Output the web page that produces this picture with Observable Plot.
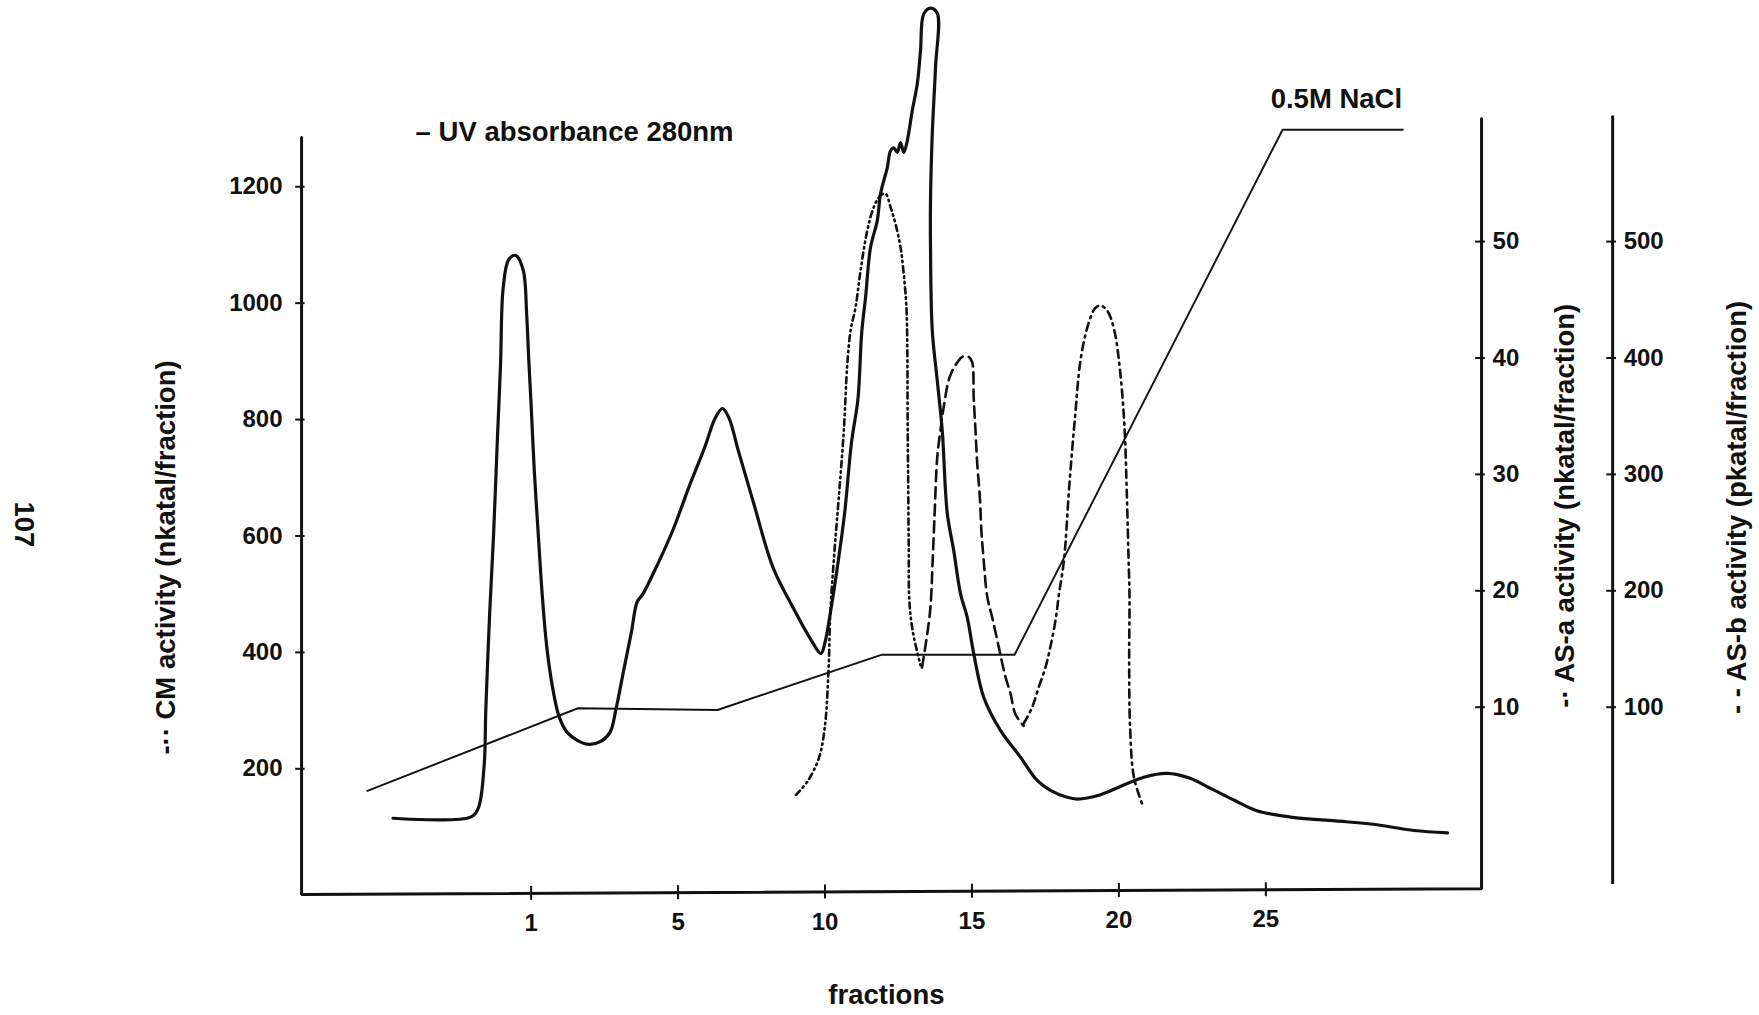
<!DOCTYPE html>
<html><head><meta charset="utf-8">
<script src="https://cdn.jsdelivr.net/npm/d3@7"></script>
<script src="https://cdn.jsdelivr.net/npm/@observablehq/plot@0.6"></script>
<style>html,body{margin:0;padding:0;background:#fff;overflow:hidden}</style>
</head><body><div id="chart"></div>
<script>
// ---------------- data ----------------
// x position along the fraction axis (tick "1" sits at position 0)
const xTickValues = [0, 5, 10, 15, 20, 25];
const xTickLabels = ["1", "5", "10", "15", "20", "25"];
const cmTicks  = [200, 400, 600, 800, 1000, 1200];   // nkatal/fraction
const asaTicks = [10, 20, 30, 40, 50];               // nkatal/fraction
const asbTicks = [100, 200, 300, 400, 500];          // pkatal/fraction

// UV absorbance 280nm (plotted against the CM scale)
const uvAbsorbance = [
  [-4.70,115],[-2.06,117],[-1.80,132],[-1.60,204],[-1.54,303],[-1.41,467],[-1.28,599],[-1.15,763],
  [-1.04,895],[-0.95,1026],[-0.76,1075],[-0.52,1082],[-0.27,1057],[-0.15,980],[-0.08,903],[0.00,826],
  [0.11,711],[0.23,614],[0.38,498],[0.53,411],[0.73,340],[0.95,290],[1.22,263],[1.60,248],[1.98,242],
  [2.37,247],[2.69,263],[2.89,303],[3.15,369],[3.41,434],[3.61,487],[3.80,500],[4.32,553],[4.84,612],
  [5.37,684],[5.89,750],[6.27,803],[6.51,819],[6.73,803],[7.06,745],[7.58,655],[8.23,546],[8.88,480],
  [9.53,421],[9.86,398],[9.99,415],[10.18,467],[10.44,553],[10.67,640],[10.90,760],[11.12,835],[11.25,950],
  [11.38,1010],[11.55,1096],[11.78,1142],[11.89,1188],[12.12,1233],[12.23,1262],[12.34,1267],
  [12.46,1259],[12.57,1276],[12.68,1259],[12.80,1279],[12.97,1331],[13.14,1377],[13.25,1434],
  [13.36,1497],[13.59,1507],[13.82,1498],[13.76,1405],[13.65,1291],[13.59,1176],[13.59,1096],
  [13.65,953],[13.82,867],[13.99,781],[14.16,639],[14.38,575],[14.61,501],[14.84,460],[15.06,398],
  [15.40,323],[15.97,266],[16.65,220],[17.22,180],[17.67,163],[18.24,151],[18.58,148],[19.35,155],
  [20.11,171],[20.88,186],[21.64,192],[22.40,184],[23.17,165],[23.93,146],[24.69,128],[25.84,117],
  [27.74,109],[28.90,103],[30.04,94],[31.18,90]
];

// salt gradient up to 0.5M NaCl (plotted against the CM scale)
const naclGradient = [
  [-5.57,162],[1.59,304],[6.34,301],[11.94,396],[16.45,396],[25.57,1298],[29.66,1298]
];

// CM activity, nkatal/fraction
const cmActivity = [
  [9.01,155],[9.40,178],[9.79,218],[9.99,270],[10.12,369],[10.18,467],[10.31,566],[10.47,667],
  [10.64,781],[10.76,896],[10.87,953],[11.04,993],[11.21,1056],[11.44,1125],[11.66,1165],[11.89,1185],
  [12.06,1188],[12.23,1165],[12.40,1136],[12.57,1096],[12.68,1050],[12.77,993],[12.80,924],[12.81,810],
  [12.83,695],[12.85,581],[12.87,489],[12.98,438],[13.18,392],[13.25,378]
];

// AS-b activity, pkatal/fraction
const asbActivity = [
  [13.30,134],[13.57,181],[13.67,230],[13.73,266],[13.82,315],[13.93,338],[14.04,358],[14.21,381],
  [14.33,389],[14.50,396],[14.67,401],[14.89,401],[15.01,396],[15.06,366],[15.12,338],[15.18,309],
  [15.27,280],[15.32,252],[15.40,226],[15.52,195],[15.69,177],[15.91,152],[16.14,126],[16.31,112],
  [16.48,94],[16.76,84]
];

// AS-a activity, nkatal/fraction
const asaActivity = [
  [16.76,8.6],[17.05,10.0],[17.27,11.7],[17.50,13.4],[17.67,15.2],[17.84,17.4],[17.96,19.7],[18.13,22.6],
  [18.32,29.3],[18.51,35.0],[18.70,39.9],[18.97,43.0],[19.20,44.3],[19.39,44.5],[19.62,44.0],[19.85,42.3],
  [20.04,38.9],[20.19,34.1],[20.27,28.3],[20.33,22.6],[20.36,19.7],[20.35,14.0],[20.38,8.3],[20.51,4.0],
  [20.79,1.7]
];

// ---------------- layout ----------------
// secondary axes share the frame: value -> CM-scale equivalent
const asaToCm = a => 105.8 + 20 * a;
const asbToCm = b => 105.8 + 2 * b;

const leftAxisX = -7.81, asaAxisX = 32.34, asbAxisX = 36.80;
const baseLeft = -16, baseRight = -6;
const baseAt = u => baseLeft + (u - leftAxisX) * (baseRight - baseLeft) / (asaAxisX - leftAxisX);

const ink = "#111";
const font = "'Liberation Sans', Arial, Helvetica, sans-serif";
const tickFont = {fontFamily: font, fontSize: 24, fontWeight: "bold", fill: ink};
const labelFont = {fontFamily: font, fontSize: 27.5, fontWeight: "bold", fill: ink};

const chart = Plot.plot({
  width: 1759,
  height: 1015,
  margin: 0,
  marginBottom: 121,
  x: {domain: [-18.054, 41.797], axis: null},
  y: {domain: [-16, 1520], axis: null},
  style: {background: "#fff", overflow: "visible"},
  marks: [
    // frame: left axis, x axis, AS-a axis
    Plot.line([[leftAxisX, 1284.6], [leftAxisX, baseLeft], [asaAxisX, baseRight], [asaAxisX, 1317]],
      {x: d => d[0], y: d => d[1], stroke: ink, strokeWidth: 3, strokeLinejoin: "miter"}),
    Plot.ruleX([asbAxisX], {y1: 1.2, y2: 1321.6, stroke: ink, strokeWidth: 3}),

    // left axis ticks + labels
    Plot.ruleY(cmTicks, {y: d => d, x1: leftAxisX - 0.2, x2: leftAxisX + 0.12, stroke: ink, strokeWidth: 2}),
    Plot.text(cmTicks, {y: d => d, x: leftAxisX, dx: -19, text: d => String(d), textAnchor: "end", ...tickFont}),

    // x ticks + labels
    Plot.ruleX(xTickValues, {x: d => d, y1: d => baseAt(d) - 12, y2: d => baseAt(d) + 12, stroke: ink, strokeWidth: 2}),
    Plot.text(xTickValues, {x: d => d, y: d => baseAt(d), dy: 30, text: (d, i) => xTickLabels[i], ...tickFont}),

    // AS-a axis ticks + labels
    Plot.ruleY(asaTicks, {y: d => asaToCm(d), x1: asaAxisX - 0.2, x2: asaAxisX + 0.13, stroke: ink, strokeWidth: 2}),
    Plot.text(asaTicks, {y: d => asaToCm(d), x: asaAxisX, dx: 11, text: d => String(d), textAnchor: "start", ...tickFont}),

    // AS-b axis ticks + labels
    Plot.ruleY(asbTicks, {y: d => asbToCm(d), x1: asbAxisX - 0.2, x2: asbAxisX + 0.13, stroke: ink, strokeWidth: 2}),
    Plot.text(asbTicks, {y: d => asbToCm(d), x: asbAxisX, dx: 11, text: d => String(d), textAnchor: "start", ...tickFont}),

    // curves
    Plot.line(naclGradient, {x: d => d[0], y: d => d[1], stroke: ink, strokeWidth: 1.9}),
    Plot.line(uvAbsorbance, {x: d => d[0], y: d => d[1], curve: "catmull-rom", stroke: ink, strokeWidth: 3.2}),
    Plot.line(cmActivity, {x: d => d[0], y: d => d[1], curve: "catmull-rom", stroke: ink, strokeWidth: 2.6,
      strokeDasharray: "6 4 1.5 4 1.5 4"}),
    Plot.line(asbActivity, {x: d => d[0], y: d => asbToCm(d[1]), curve: "catmull-rom", stroke: ink, strokeWidth: 2.6,
      strokeDasharray: "11 6"}),
    Plot.line(asaActivity, {x: d => d[0], y: d => asaToCm(d[1]), curve: "catmull-rom", stroke: ink, strokeWidth: 2.6,
      strokeDasharray: "8 5 2 5"}),

    // annotations
    Plot.text(["\u2013 UV absorbance 280nm"], {x: -3.93, y: 1293, text: d => d, textAnchor: "start", ...labelFont}),
    Plot.text(["0.5M NaCl"], {x: 27.40, y: 1351, text: d => d, ...labelFont}),
    Plot.text(["fractions"], {x: 12.09, y: -189.5, text: d => d, ...labelFont}),
    Plot.text(["-\u00b7\u00b7 CM activity (nkatal/fraction)"], {x: -12.41, y: 563, rotate: -90, text: d => d, ...labelFont}),
    Plot.text(["-\u00b7 AS-a activity (nkatal/fraction)"], {x: 35.20, y: 652, rotate: -90, text: d => d, ...labelFont}),
    Plot.text(["- - AS-b activity (pkatal/fraction)"], {x: 41.05, y: 649, rotate: -90, text: d => d, ...labelFont}),
    Plot.text(["107"], {x: -17.27, y: 620, rotate: 90, text: d => d, ...labelFont})
  ]
});
document.getElementById("chart").appendChild(chart);
</script>
</body></html>
